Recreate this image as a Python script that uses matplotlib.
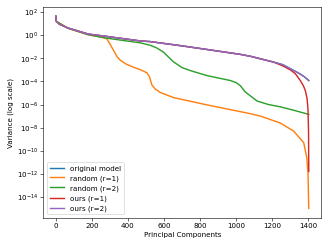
import numpy as np
import matplotlib.pyplot as plt

# variance per principal component at knot positions
ours2_x = [0, 3, 20, 68, 180, 281, 468, 524, 700, 850, 1024, 1080, 1209, 1260, 1302, 1350, 1380, 1404]
ours2_y = [44, 16, 8.9, 4.2, 1.26, 0.79, 0.32, 0.28, 0.12, 0.055, 0.022, 0.015,
           4.7e-3, 2.8e-3, 1.26e-3, 5e-4, 2.5e-4, 1.2e-4]

orig_x = ours2_x
orig_y = ours2_y

ours1_x = [0, 3, 20, 68, 180, 281, 468, 524, 700, 850, 1024, 1080, 1209, 1260, 1302,
           1330, 1357, 1375, 1385, 1395, 1400, 1403, 1404]
ours1_y = [44, 16, 8.9, 4.2, 1.26, 0.79, 0.32, 0.28, 0.12, 0.055, 0.022, 0.015, 4.7e-3,
           2.2e-3, 1e-3, 4.5e-4, 1.2e-4, 4e-5, 1.6e-5, 3.2e-6, 3.2e-7, 3.2e-9, 1.6e-12]

rand2_x = [0, 3, 68, 180, 281, 468, 524, 560, 597, 630, 653, 700, 746, 839, 968, 1000,
           1024, 1050, 1080, 1117, 1180, 1246, 1320, 1404]
rand2_y = [44, 16, 4.0, 1.1, 0.56, 0.22, 0.135, 0.08, 0.035, 0.011, 5e-3, 1.6e-3, 8.7e-4,
           3.2e-4, 1.2e-4, 8e-5, 4.3e-5, 1.3e-5, 5.6e-6, 2e-6, 1e-6, 6.3e-7, 3.2e-7, 1.4e-7]

rand1_x = [0, 3, 68, 180, 246, 283, 300, 320, 340, 357, 390, 431, 468, 506, 520, 533, 552,
           580, 653, 839, 1080, 1135, 1246, 1320, 1376, 1393, 1400, 1404]
rand1_y = [44, 16, 4.0, 1.1, 0.72, 0.5, 0.18, 0.05, 0.014, 7e-3, 3.2e-3, 1.7e-3, 1.05e-3,
           5.6e-4, 2.5e-4, 5e-5, 2.2e-5, 1.1e-5, 4e-6, 9.3e-7, 1.6e-7, 1e-7, 2.5e-8, 5e-9,
           5e-10, 2.5e-11, 1e-12, 1e-15]

dpi = 51.45
fig, ax = plt.subplots(figsize=(329.3 / dpi, 247.3 / dpi), dpi=dpi)

lw = 2
ax.plot(orig_x, orig_y, label="original model", lw=lw)
ax.plot(rand1_x, rand1_y, label="random (r=1)", lw=lw)
ax.plot(rand2_x, rand2_y, label="random (r=2)", lw=lw)
ax.plot(ours1_x, ours1_y, label="ours (r=1)", lw=lw)
ax.plot(ours2_x, ours2_y, label="ours (r=2)", lw=lw)
ax.set_yscale("log")
ylim = ax.get_ylim()
ax.set_yticks([10.0 ** e for e in range(-14, 3, 2)])
ax.minorticks_off()
ax.set_ylim(ylim)

ax.set_xlabel("Principal Components")
ax.set_ylabel("Variance (log scale)")
ax.legend(loc="lower left")

fig.subplots_adjust(left=0.131, right=0.976, bottom=0.117, top=0.972)
fig.savefig("out.png")
